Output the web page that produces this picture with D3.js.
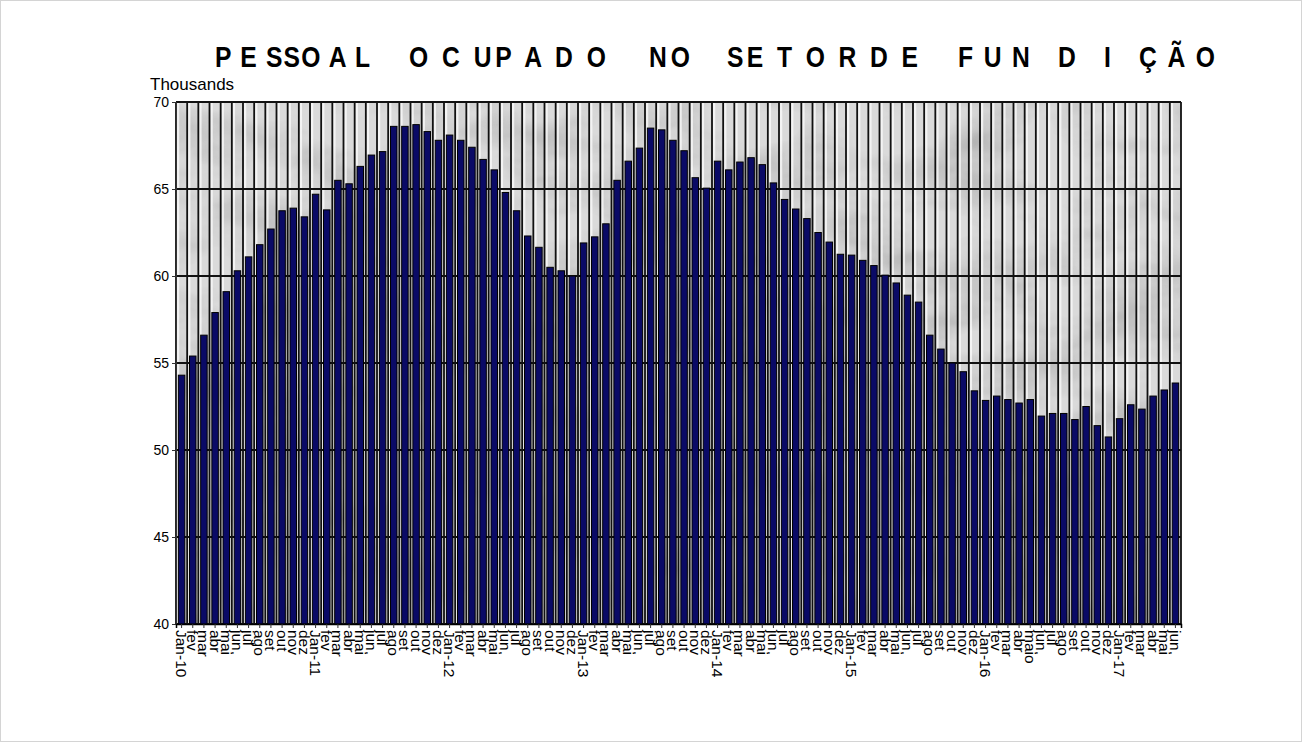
<!DOCTYPE html>
<html>
<head>
<meta charset="utf-8">
<script src="https://cdn.jsdelivr.net/npm/d3@7"></script>
<style>
  body { margin: 0; background: #fff; }
  svg { display: block; font-family: "Liberation Sans", Arial, sans-serif; }
</style>
</head>
<body>
<div id="chart"></div>
<script>
// month labels, Jan-10 .. jun-17
var months = ["Jan-10","fev","mar","abr","mai","jun.","jul","ago","set","out","nov","dez",
  "Jan-11","fev","mar","abr","mai","jun.","jul","ago","set","out","nov","dez",
  "Jan-12","fev","mar","abr","mai","jun.","jul","ago","set","out","nov","dez",
  "Jan-13","fev","mar","abr","mai","jun.","jul","ago","set","out","nov","dez",
  "Jan-14","fev","mar","abr","mai","jun.","jul","ago","set","out","nov","dez",
  "Jan-15","fev","mar","abr","mai","jun.","jul","ago","set","out","nov","dez",
  "Jan-16","fev","mar","abr","maio","jun.","jul","ago","set","out","nov","dez",
  "Jan-17","fev","mar","abr","mai","jun."];

// employed persons (thousands)
var pessoal = [54.3,55.4,56.6,57.9,59.1,60.3,61.1,61.8,62.7,63.75,63.9,63.4,
  64.7,63.8,65.5,65.3,66.3,66.95,67.15,68.6,68.6,68.7,68.3,67.8,
  68.1,67.8,67.4,66.7,66.1,64.8,63.75,62.3,61.65,60.5,60.3,60.0,
  61.9,62.25,63.0,65.5,66.6,67.35,68.5,68.4,67.8,67.2,65.65,65.05,
  66.6,66.1,66.55,66.8,66.4,65.35,64.4,63.85,63.3,62.5,61.95,61.25,
  61.2,60.9,60.6,60.05,59.6,58.9,58.5,56.6,55.8,55.0,54.5,53.4,
  52.85,53.1,52.9,52.7,52.9,51.95,52.1,52.1,51.75,52.5,51.4,50.75,
  51.8,52.6,52.35,53.1,53.45,53.85];

var yTicks = [40,45,50,55,60,65,70];

// title words, as spaced in the original
var titleWords = ["P E SSO A L", "O C UP A D O", "N O", "SE T O R D E", "FUN D I ÇÃO"];

var W = 1302, H = 742;
var margin = {top: 102, right: 121, bottom: 118, left: 176},
  width = W - margin.left - margin.right,
  height = H - margin.top - margin.bottom;

var svg = d3.select("#chart").append("svg")
  .attr("width", W).attr("height", H);

// light page border
svg.append("rect")
  .attr("x", 0.5).attr("y", 0.5).attr("width", W - 1).attr("height", H - 1)
  .attr("fill", "none").attr("stroke", "#d4d4d4");

// marble-ish texture for the plot wall
var defs = svg.append("defs");
var filt = defs.append("filter").attr("id", "marble")
  .attr("x", 0).attr("y", 0).attr("width", 1).attr("height", 1);
filt.append("feTurbulence").attr("type", "fractalNoise")
  .attr("baseFrequency", "0.012 0.02").attr("numOctaves", 4).attr("seed", 7).attr("result", "n");
filt.append("feColorMatrix").attr("in", "n").attr("type", "matrix")
  .attr("values", "0 0 0 0 0  0 0 0 0 0  0 0 0 0 0  -0.9 -0.9 0 0 1.05").attr("result", "a");
filt.append("feFlood").attr("flood-color", "#9a9a9a").attr("result", "f");
filt.append("feComposite").attr("in", "f").attr("in2", "a").attr("operator", "in").attr("result", "veins");
filt.append("feFlood").attr("flood-color", "#dadada").attr("result", "base");
var merge = filt.append("feMerge");
merge.append("feMergeNode").attr("in", "base");
merge.append("feMergeNode").attr("in", "veins");

var g = svg.append("g")
  .attr("transform", "translate(" + margin.left + "," + margin.top + ")");

var x = d3.scaleBand().domain(d3.range(months.length)).range([0, width]).paddingInner(0.42).paddingOuter(0.21);
var y = d3.scaleLinear().domain([40, 70]).range([height, 0]);

g.append("rect")
  .attr("width", width).attr("height", height)
  .attr("filter", "url(#marble)");

// light stripes inside each category
g.append("g").selectAll("rect")
  .data(d3.range(months.length))
  .enter().append("rect")
  .attr("x", function(d){ return x(d) - x.step() * 0.14; })
  .attr("width", x.step() * 0.22)
  .attr("y", 0).attr("height", height)
  .attr("fill", "#ffffff").attr("opacity", 0.7);

// vertical grid lines, one per category
g.append("g").selectAll("line")
  .data(d3.range(months.length + 1))
  .enter().append("line")
  .attr("x1", function(d){ return d * x.step(); })
  .attr("x2", function(d){ return d * x.step(); })
  .attr("y1", 0).attr("y2", height)
  .attr("stroke", "#111").attr("stroke-width", 1.8);

// horizontal grid lines
g.append("g").selectAll("line")
  .data(yTicks)
  .enter().append("line")
  .attr("x1", 0).attr("x2", width)
  .attr("y1", function(d){ return y(d); })
  .attr("y2", function(d){ return y(d); })
  .attr("stroke", "#111").attr("stroke-width", 1.8);

// bars
g.append("g").selectAll("rect")
  .data(pessoal)
  .enter().append("rect")
  .attr("x", function(d, i){ return x(i); })
  .attr("width", x.bandwidth())
  .attr("y", function(d){ return y(d); })
  .attr("height", function(d){ return height - y(d); })
  .attr("fill", "#0a0a66")
  .attr("stroke", "#000").attr("stroke-width", 1);

// y axis
var yAxis = g.append("g")
  .call(d3.axisLeft(y).tickValues(yTicks).tickSize(4).tickPadding(3));
yAxis.select(".domain").attr("stroke", "#333");
yAxis.selectAll(".tick line").attr("stroke", "#333");
yAxis.selectAll("text").attr("font-size", 14).attr("fill", "#000")
  .attr("font-family", "Liberation Sans, Arial, sans-serif");

// x axis with vertical month labels
var xAxis = g.append("g")
  .attr("transform", "translate(0," + height + ")")
  .call(d3.axisBottom(x).tickFormat(function(i){ return months[i]; }).tickSize(4).tickPadding(2));
xAxis.select(".domain").attr("stroke", "#000").attr("stroke-width", 1.5);
xAxis.selectAll(".tick line").attr("stroke", "#333");
xAxis.selectAll("text")
  .attr("font-size", 15.5).attr("fill", "#000")
  .attr("font-family", "Liberation Sans, Arial, sans-serif")
  .attr("transform", "rotate(90)")
  .attr("x", 6).attr("y", 0).attr("dy", "0.35em")
  .style("text-anchor", "start");

// axis unit label
svg.append("text")
  .attr("x", 150).attr("y", 90)
  .attr("font-size", 17).attr("fill", "#000")
  .text("Thousands");

// title - condensed bold letters, each word group fitted to its span
var titleSpans = [[215, 370], [409, 606], [649, 690], [727, 918], [958, 1215]];
var squeeze = 0.85;
var titleG = svg.append("g").attr("class", "title");
titleWords.forEach(function(word, i){
  var x0 = titleSpans[i][0], x1 = titleSpans[i][1];
  titleG.append("text")
    .attr("transform", "translate(" + x0 + ",67) scale(" + squeeze + ",1)")
    .attr("font-size", 29).attr("font-weight", "bold").attr("fill", "#000")
    .style("white-space", "pre")
    .attr("textLength", (x1 - x0) / squeeze).attr("lengthAdjust", "spacing")
    .text(word);
});
</script>
</body>
</html>
